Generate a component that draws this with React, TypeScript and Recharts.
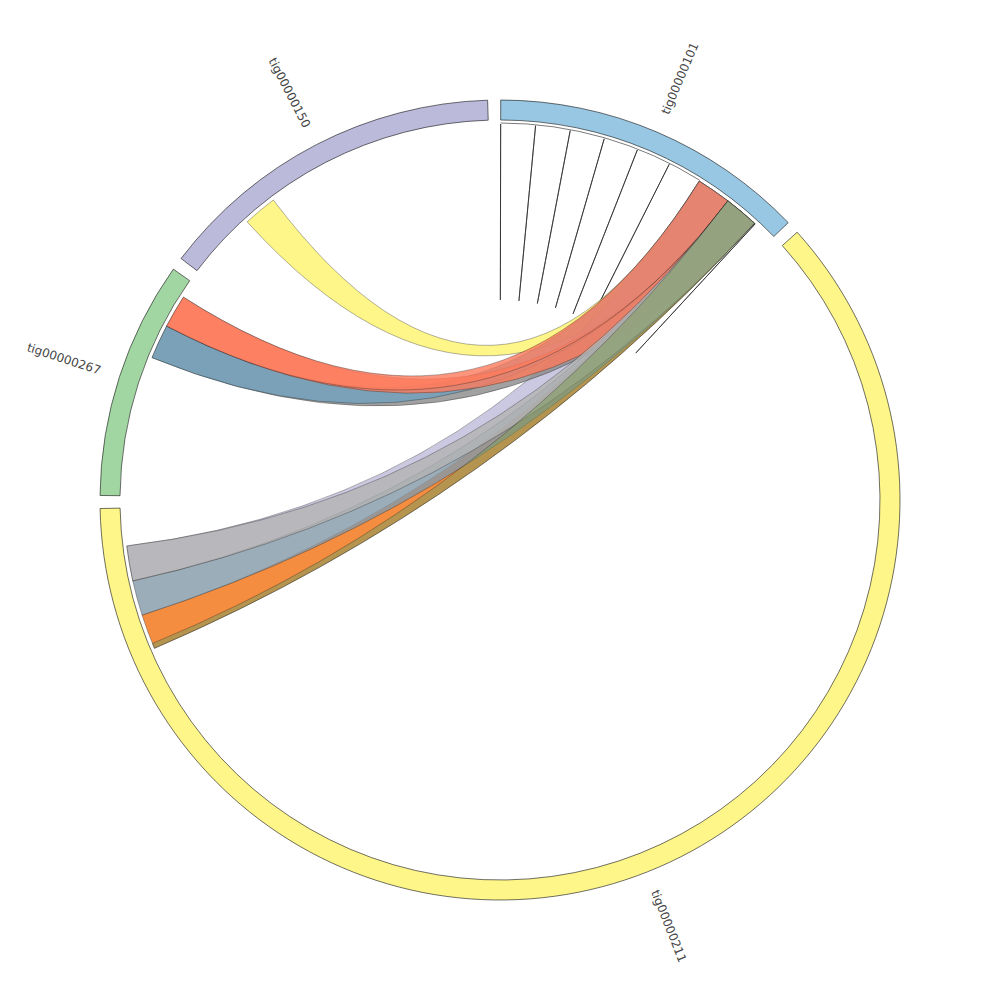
import React from "react";
import { PieChart, Pie, Cell, Customized } from "recharts";

// contigs around the circle (sizes in degrees of arc)
const segments = ["tig00000101", "tig00000211", "tig00000267", "tig00000150"];
const segmentSizes = [46.0, 220.8, 34.6, 51.1];
const segmentColors = ["#97c7e2", "#fff68a", "#a1d6a2", "#bcbadb"];

// links between contigs (positions are offsets inside each contig), drawn in this order
const linkSource = [
  "tig00000150",
  "tig00000211",
  "tig00000267",
  "tig00000267",
  "tig00000267",
  "tig00000267",
  "tig00000211",
  "tig00000211",
  "tig00000211",
  "tig00000211",
];
const linkSourceStart = [10.6, 209.6, 21.6, 21.6, 26.9, 26.9, 198.8, 204.2, 209.6, 198.8];
const linkSourceEnd = [15.8, 215.0, 26.9, 26.9, 32.0, 32.0, 204.2, 209.6, 215.0, 199.6];
const linkTargetStart = [31.9, 31.9, 37.2, 31.9, 37.2, 31.9, 37.2, 37.2, 37.2, 37.2];
const linkTargetEnd = [37.2, 37.2, 42.5, 37.2, 42.5, 37.2, 42.5, 42.5, 42.5, 42.5];
const linkTarget = "tig00000101";
const linkColors = [
  "#fff46d",
  "#bebada",
  "#8a8a8a",
  "#71a1bd",
  "#fc7b5c",
  "#fc7b5c",
  "#f1700f",
  "#8398a9",
  "#b3b3b3",
  "#7f9a5c",
];
const linkOpacity = [0.8, 0.8, 0.8, 0.8, 0.8, 0.8, 0.8, 0.8, 0.8, 0.55];

// zero-width self links on tig00000101
const selfLinkPositions = [0, 5.33, 10.66, 15.99, 21.32, 26.65, 31.98, 37.31, 42.64];

const W = 984;
const H = 984;
const CX = 492;
const CY = 492;
const OUTER = 400;
const INNER = 380;
const RIBBON_R = 376;
const SELF_CTRL_R = 24;
const PAD = 1.875;
const START = 0.1; // clockwise degrees from 12 o'clock

const total = segmentSizes.reduce((a, b) => a + b, 0);
const scale = (360 - segments.length * PAD) / total;
const segStart = segmentSizes.map(
  (_, i) => START + segmentSizes.slice(0, i).reduce((a, b) => a + b, 0) * scale + i * PAD
);

const angleOf = (seg: string, pos: number) => segStart[segments.indexOf(seg)] + pos * scale;

const pt = (theta: number, r: number) => {
  const a = (theta * Math.PI) / 180;
  return `${(CX + r * Math.sin(a)).toFixed(2)},${(CY - r * Math.cos(a)).toFixed(2)}`;
};

const ribbonPath = (a0: number, a1: number, b0: number, b1: number, r: number) => {
  const la = a1 - a0 > 180 ? 1 : 0;
  const lb = b1 - b0 > 180 ? 1 : 0;
  return (
    `M${pt(a0, r)} A${r},${r} 0 ${la} 1 ${pt(a1, r)} ` +
    `Q${CX},${CY} ${pt(b0, r)} A${r},${r} 0 ${lb} 1 ${pt(b1, r)} ` +
    `Q${CX},${CY} ${pt(a0, r)} Z`
  );
};

const Ribbons = () => {
  const selfAngles = selfLinkPositions.map((p) => angleOf(linkTarget, p));
  const firstRibbon = Math.min(...linkTargetStart.map((p) => angleOf(linkTarget, p)));
  const rr = RIBBON_R + 1;
  return (
    <g>
      <path
        d={`M${pt(selfAngles[0], rr)} A${rr},${rr} 0 0 1 ${pt(firstRibbon, rr)}`}
        fill="none"
        stroke="#222"
        strokeWidth={0.6}
      />
      {selfAngles.map((a, i) => (
        <path
          key={`s${i}`}
          d={`M${pt(a, RIBBON_R)} Q${pt(a, SELF_CTRL_R)} ${pt(a, RIBBON_R)}`}
          fill="none"
          stroke="#222"
          strokeWidth={0.7}
        />
      ))}
      {linkSource.map((src, i) => (
        <path
          key={`r${i}`}
          d={ribbonPath(
            angleOf(src, linkSourceStart[i]),
            angleOf(src, linkSourceEnd[i]),
            angleOf(linkTarget, linkTargetStart[i]),
            angleOf(linkTarget, linkTargetEnd[i]),
            RIBBON_R
          )}
          fill={linkColors[i]}
          fillOpacity={linkOpacity[i]}
          stroke="#222"
          strokeOpacity={0.7}
          strokeWidth={0.5}
        />
      ))}
    </g>
  );
};

const renderLabel = (props: any) => {
  const { cx, cy, midAngle, name } = props;
  const theta = 90 - midAngle;
  const a = (theta * Math.PI) / 180;
  const r = 420;
  const x = cx + r * Math.sin(a);
  const y = cy - r * Math.cos(a);
  const norm = ((theta % 360) + 360) % 360;
  const right = norm < 180;
  const rot = right ? norm - 90 : norm + 90;
  return (
    <text
      x={x}
      y={y}
      dy="0.35em"
      textAnchor={right ? "start" : "end"}
      transform={`rotate(${rot}, ${x}, ${y})`}
      fontFamily="DejaVu Sans"
      fontSize={12}
      fill="#444"
    >
      {name}
    </text>
  );
};

const pieData = segments.map((name, i) => ({ name, value: segmentSizes[i] }));

export default function App() {
  return (
    <PieChart width={W} height={H} margin={{ top: 0, right: 0, bottom: 0, left: 0 }}>
      <Pie
        data={pieData}
        dataKey="value"
        nameKey="name"
        cx={CX}
        cy={CY}
        innerRadius={INNER}
        outerRadius={OUTER}
        startAngle={90 - START}
        endAngle={90 - START - 360}
        paddingAngle={PAD}
        stroke="#111"
        strokeWidth={0.6}
        label={renderLabel}
        labelLine={false}
        isAnimationActive={false}
      >
        {pieData.map((d, i) => (
          <Cell key={d.name} fill={segmentColors[i]} />
        ))}
      </Pie>
      <Customized component={<Ribbons />} />
    </PieChart>
  );
}
